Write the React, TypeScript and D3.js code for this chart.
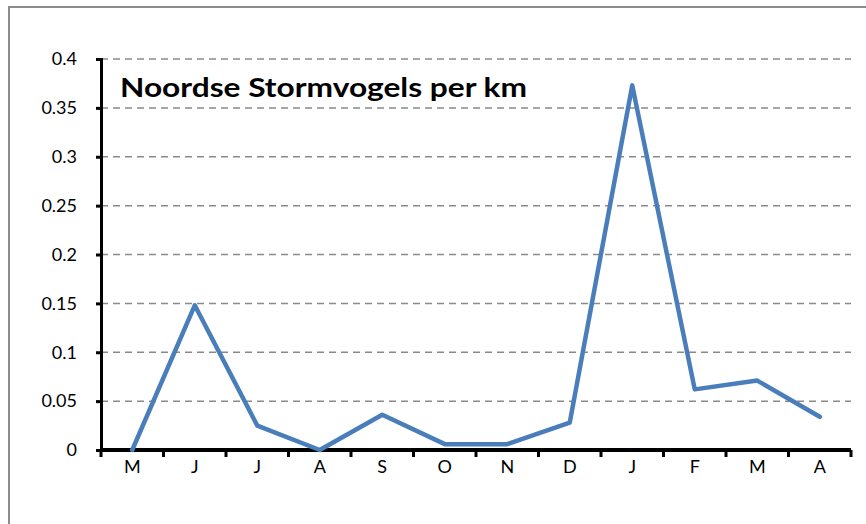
import * as d3 from "d3";
import { useEffect, useRef } from "react";

const months = ["M", "J", "J", "A", "S", "O", "N", "D", "J", "F", "M", "A"];
const values = [0, 0.148, 0.025, 0, 0.036, 0.006, 0.006, 0.028, 0.373, 0.062, 0.071, 0.034];
const yTicks = [0, 0.05, 0.1, 0.15, 0.2, 0.25, 0.3, 0.35, 0.4];
const title = "Noordse Stormvogels per km";

export default function App() {
  const ref = useRef<SVGSVGElement>(null);

  useEffect(() => {
    const svg = d3.select(ref.current);
    svg.selectAll("*").remove();

    const left = 101;
    const right = 851;
    const top = 59;
    const bottom = 450;
    const font = "Lato, 'Open Sans', sans-serif";

    // outer frame
    svg
      .append("rect")
      .attr("x", 9)
      .attr("y", 7)
      .attr("width", 900)
      .attr("height", 600)
      .attr("fill", "#fff")
      .attr("stroke", "#8c8c8c")
      .attr("stroke-width", 2);

    const x = d3.scaleBand().domain(d3.range(months.length).map(String)).range([left, right]);
    const y = d3.scaleLinear().domain([0, 0.4]).range([bottom, top]);

    // dashed grid
    svg
      .append("g")
      .selectAll("line")
      .data(yTicks.filter((d) => d > 0))
      .join("line")
      .attr("x1", left)
      .attr("x2", right)
      .attr("y1", (d) => y(d))
      .attr("y2", (d) => y(d))
      .attr("stroke", "#8a8a8a")
      .attr("stroke-width", 1.5)
      .attr("stroke-dasharray", "7,5");

    // y axis
    const yAxis = svg
      .append("g")
      .attr("transform", `translate(${left},0)`)
      .call(d3.axisLeft(y).tickValues(yTicks).tickSize(5).tickPadding(19).tickFormat((d) => String(d)));
    yAxis.select(".domain").attr("stroke", "#000").attr("stroke-width", 3);
    yAxis.selectAll(".tick line").attr("stroke", "#000").attr("stroke-width", 3);
    yAxis.selectAll(".tick text").attr("font-family", font).attr("font-size", 18).attr("fill", "#000");

    // x axis with ticks at category boundaries
    svg
      .append("line")
      .attr("x1", left)
      .attr("x2", right)
      .attr("y1", bottom)
      .attr("y2", bottom)
      .attr("stroke", "#000")
      .attr("stroke-width", 4);
    const bounds = d3.range(months.length + 1).map((i) => left + i * x.step());
    svg
      .append("g")
      .selectAll("line")
      .data(bounds)
      .join("line")
      .attr("x1", (d) => d)
      .attr("x2", (d) => d)
      .attr("y1", bottom)
      .attr("y2", bottom + 7)
      .attr("stroke", "#000")
      .attr("stroke-width", 3);
    svg
      .append("g")
      .selectAll("text")
      .data(months)
      .join("text")
      .attr("x", (d, i) => x(String(i))! + x.bandwidth() / 2)
      .attr("y", 473)
      .attr("text-anchor", "middle")
      .attr("font-family", font)
      .attr("font-size", 18)
      .text((d) => d);

    // the line
    const line = d3
      .line<number>()
      .x((d, i) => x(String(i))! + x.bandwidth() / 2)
      .y((d) => y(d));
    svg
      .append("path")
      .datum(values)
      .attr("fill", "none")
      .attr("stroke", "#4a7ebb")
      .attr("stroke-width", 4.5)
      .attr("stroke-linejoin", "round")
      .attr("stroke-linecap", "round")
      .attr("d", line);

    // title
    svg
      .append("text")
      .attr("x", 120)
      .attr("y", 97)
      .attr("font-family", font)
      .attr("font-weight", "bold")
      .attr("font-size", 27)
      .attr("textLength", 407)
      .attr("lengthAdjust", "spacingAndGlyphs")
      .text(title);
  }, []);

  return (
    <svg
      ref={ref}
      width={866}
      height={524}
      style={{ position: "absolute", left: 0, top: 0, display: "block" }}
    />
  );
}
